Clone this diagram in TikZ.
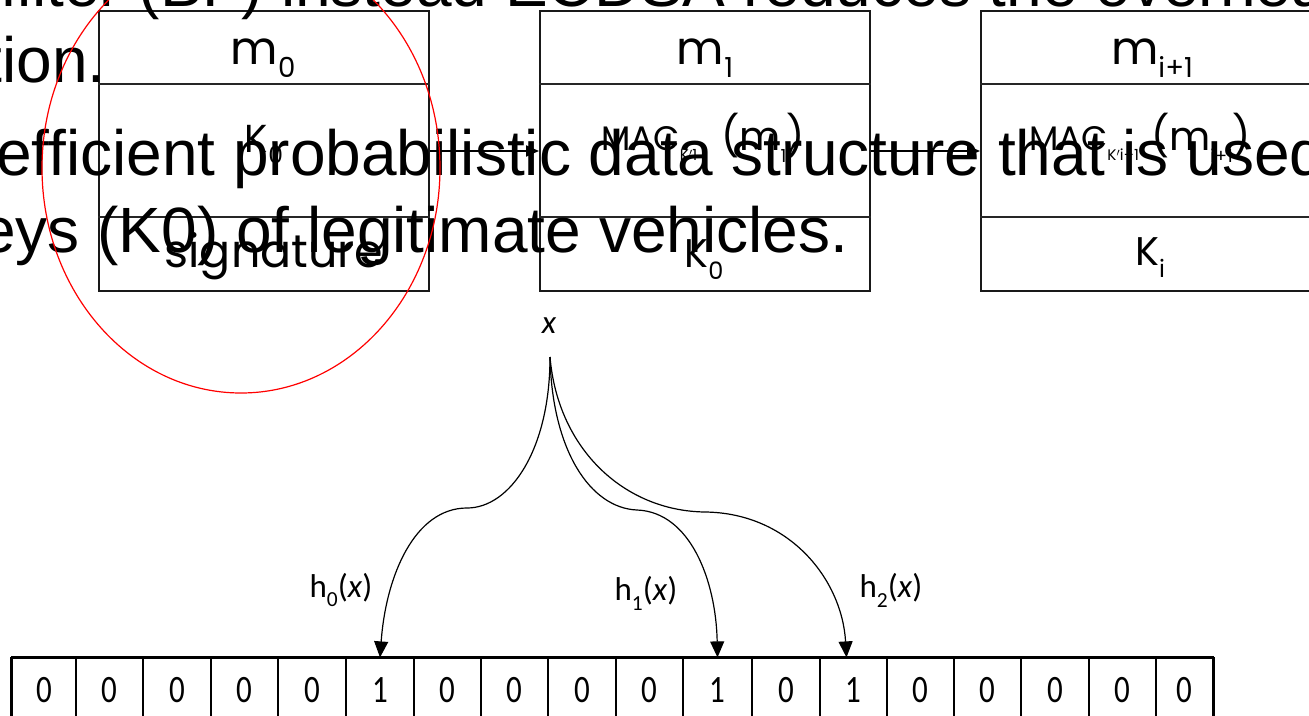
\documentclass[tikz,border=0pt]{standalone}
\usepackage{fontspec}
\setmainfont{Liberation Sans}
\newfontfamily\boxfont{Poppins}
\newfontfamily\calfont{Carlito}
\usetikzlibrary{arrows.meta}
\newcommand\lowsub[2][0.6]{\raisebox{-0.3em}{\scalebox{#1}{#2}}}
\newcommand\fs[1]{\fontsize{#1}{#1}\selectfont}
\begin{document}
\begin{tikzpicture}[x=1pt,y=-1pt,
  bx/.style={draw=black!90, line width=2pt, minimum width=330pt, minimum height=280pt, inner sep=0pt},
  divline/.style={draw=black!85, line width=1.5pt},
  bt/.style={font=\boxfont, inner sep=0pt, anchor=base},
  slide/.style={font=\fs{64}, inner sep=0pt, anchor=base west},
  arr/.style={line width=2pt, -{Triangle[width=11pt,length=13pt]}},
  cell/.style={draw=black, line width=1.2pt, minimum height=64pt, inner sep=0pt, font=\calfont\fs{31}},
  harr/.style={line width=1.2pt, -{Triangle[width=14pt,length=16pt]}},
  lab/.style={font=\calfont\fs{33}, inner sep=0pt}]
\useasboundingbox (0,0) rectangle (1309,715);
\clip (0,0) rectangle (1309,715);
\fill[white] (0,0) rectangle (1309,715);
% boxes
\node[bx] (b1) at (264,151) {};
\node[bx] (b2) at (705,151) {};
\node[bx] (b3) at (1146,151) {};
\foreach \b in {b1,b2,b3}{
  \draw[divline] ([yshift=-74pt]\b.north west) -- ([yshift=-74pt]\b.north east);
  \draw[divline] ([yshift=-207pt]\b.north west) -- ([yshift=-207pt]\b.north east);
}
\draw[arr] (b1) -- (b2);
\draw[arr] (b2) -- (b3);
% box texts
\node[bt] (m0) at (263,64) {\fs{46}m\lowsub{0}};
\node[bt] (k0a) at (264,152) {\fs{39}K\lowsub{0}};
\node[bt] (sig) at (274,267) {\fs{46}signature};
\node[bt] (m1) at (705,64) {\fs{46}m\lowsub{1}};
\node[bt] (mac1) at (703,150) {\fs{34}MAC\lowsub[0.45]{K$'$1}\hspace{24pt}\fs{40}(m\lowsub[0.45]{1})};
\node[bt] (k0b) at (704,267) {\fs{40}K\lowsub{0}};
\node[bt] (mi) at (1152,64) {\fs{46}m\lowsub{i+1}};
\node[bt] (maci) at (1140,150) {\fs{34}MAC\lowsub[0.45]{K$'$i+1}\hspace{12pt}\fs{40}(m\lowsub[0.45]{i+1})};
\node[bt] (ki) at (1150,265) {\fs{40}K\lowsub{i}};
% slide text
\node[slide] (s1) at (0,6) {filter (BF) instead ECDSA reduces the overhead};
\node[slide, anchor=base east] (s2) at (106,82) {ation.};
\node[slide] (s3) at (-4,175) {efficient probabilistic data structure that is used};
\node[slide] (s4) at (-20,252) {eys (K0) of legitimate vehicles.};
% bit array
\foreach \l/\r/\v [count=\i] in {12/76/0,76/143/0,143/211/0,211/278/0,278/346/0,346/414/1,414/481/0,481/548/0,548/616/0,616/683/0,683/752/1,752/820/0,820/887/1,887/954/0,954/1021/0,1021/1089/0,1089/1156/0,1156/1213/0}{
  \node[cell, minimum width={(\r-\l)*1pt}] (c\i) at ({(\l+\r)/2},690) {\scalebox{1}[1.25]{\v}};
}
\draw[line width=2.5pt] (c1.north west) -- (c18.north east);
\draw[line width=2pt] (c1.north west) -- (c1.south west);
\draw[line width=2pt] (c18.north east) -- (c18.south east);
% hash
\node[lab] (x) at (549,326) {\itshape x};
\coordinate (xs) at (550,357);
\draw[harr] (xs) .. controls (550,450) and (510,508) .. (467,508) .. controls (415,508) and (386,575) .. (c6.north);
\draw[harr] (xs) .. controls (552,450) and (590,508) .. (637,510) .. controls (690,512) and (716,580) .. (c11.north);
\draw[harr] (xs) .. controls (558,450) and (625,511) .. (705,512) .. controls (790,513) and (842,580) .. ([xshift=-7pt]c13.north);
\node[lab] (h0) at (341,590) {h\lowsub[0.65]{0}(\textit{x})};
\node[lab] (h1) at (646,593) {h\lowsub[0.65]{1}(\textit{x})};
\node[lab] (h2) at (891,590) {h\lowsub[0.65]{2}(\textit{x})};
% red ellipse
\draw[red, line width=1.2pt] (241,168) ellipse [x radius=199, y radius=225];
\end{tikzpicture}
\end{document}
